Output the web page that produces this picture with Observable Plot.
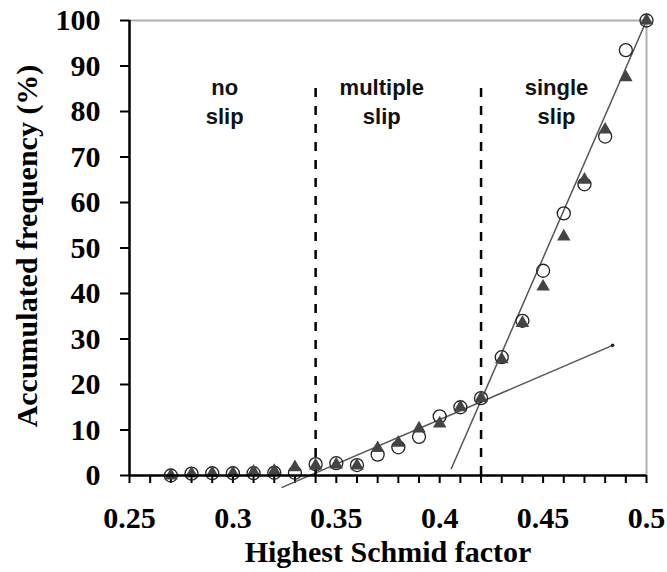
<!DOCTYPE html>
<html>
<head>
<meta charset="utf-8">
<script src="https://cdn.jsdelivr.net/npm/d3@7"></script>
<script src="https://cdn.jsdelivr.net/npm/@observablehq/plot@0.6"></script>
<style>
  html, body { margin: 0; padding: 0; background: white; }
</style>
</head>
<body>
<div id="chart"></div>
<script>
// Highest Schmid factor (x) and accumulated frequency (%) for two series
const schmid = [0.27, 0.28, 0.29, 0.30, 0.31, 0.32, 0.33, 0.34, 0.35, 0.36, 0.37, 0.38, 0.39, 0.40, 0.41, 0.42, 0.43, 0.44, 0.45, 0.46, 0.47, 0.48, 0.49, 0.50];
const circleSeries = [0, 0.4, 0.5, 0.5, 0.5, 0.6, 0.6, 2.5, 2.7, 2.3, 4.6, 6.2, 8.5, 13, 15, 17, 26, 34, 45, 57.6, 64, 74.5, 93.5, 100];
const triangleSeries = [0, 0.4, 0.5, 0.5, 0.8, 1.0, 1.8, 2.2, 2.4, 2.2, 6, 7.2, 10.3, 11.4, 15, 17, 25.5, 33.5, 41.5, 52.5, 65, 76, 87.5, 100];

// fitted lines (end points)
const fitLowX = [0.3238, 0.4836];
const fitLowY = [-2.6, 28.6];
const fitHighX = [0.4056, 0.5];
const fitHighY = [1.5, 100];

// regime boundaries and labels
const boundaries = [0.34, 0.42];
const regionLabels = ["no\nslip", "multiple\nslip", "single\nslip"];
const regionX = [0.296, 0.372, 0.4565];
const regionY = [82.5, 82.5, 82.5];

// ticks and axis labels
const xTicks = [0.25, 0.3, 0.35, 0.4, 0.45, 0.5];
const xMinorTicks = d3.range(25, 51).map(i => i / 100);
const yTicks = [0, 10, 20, 30, 40, 50, 60, 70, 80, 90, 100];
const xLabel = "Highest Schmid factor";
const yLabel = "Accumulated frequency (%)";

const rows = schmid.map((x, i) => ({x, circle: circleSeries[i], tri: triangleSeries[i]}));
const fitLow = fitLowX.map((x, i) => ({x, y: fitLowY[i]}));
const fitHigh = fitHighX.map((x, i) => ({x, y: fitHighY[i]}));
const regions = regionLabels.map((t, i) => ({t, x: regionX[i], y: regionY[i]}));

const serif = "'Liberation Serif', 'Times New Roman', serif";
const sans = "'Liberation Sans', Arial, sans-serif";

const chart = Plot.plot({
  width: 667,
  height: 572,
  marginLeft: 129,
  marginRight: 21,
  marginTop: 20,
  marginBottom: 97,
  style: {fontFamily: serif, background: "white", color: "black", overflow: "visible"},
  x: {domain: [0.25, 0.5]},
  y: {domain: [0, 100]},
  marks: [
    // gray frame top/right
    Plot.ruleY([100], {x1: 0.25, x2: 0.5, stroke: "#b0b0b0", strokeWidth: 2}),
    Plot.ruleX([0.5], {y1: 0, y2: 100, stroke: "#b0b0b0", strokeWidth: 2}),
    // axes ticks
    Plot.axisX({ticks: xMinorTicks, tickSize: 8, tickFormat: () => "", strokeWidth: 2, label: null}),
    Plot.axisX({ticks: xTicks, tickSize: 0, tickPadding: 31, fontSize: 30, fontWeight: "bold", tickFormat: d => String(d), label: null}),
    Plot.axisY({ticks: yTicks, tickSize: 9, tickPadding: 20, fontSize: 30, fontWeight: "bold", strokeWidth: 2, tickFormat: d => String(d), label: null}),
    // axis titles
    Plot.text([xLabel], {frameAnchor: "bottom", dy: 86, fontSize: 30, fontWeight: "bold", fontFamily: serif, fill: "black"}),
    Plot.text([yLabel], {frameAnchor: "left", dx: -102, dy: -2, rotate: -90, textAnchor: "middle", fontSize: 30, fontWeight: "bold", fontFamily: serif, fill: "black"}),
    // fitted lines
    Plot.line(fitLow, {x: "x", y: "y", stroke: "#555", strokeWidth: 1.5}),
    Plot.dot([fitLow[fitLow.length - 1]], {x: "x", y: "y", r: 1.8, fill: "#222"}),
    Plot.line(fitHigh, {x: "x", y: "y", stroke: "#555", strokeWidth: 1.5}),
    // boundaries
    Plot.ruleX(boundaries, {y1: 0, y2: 86, stroke: "black", strokeWidth: 2.5, strokeDasharray: "9,9"}),
    // data markers
    Plot.dot(rows, {x: "x", y: "circle", r: 6.5, stroke: "#222", strokeWidth: 1.3, fill: "none"}),
    Plot.dot(rows, {x: "x", y: "tri", symbol: "triangle", r: 5, fill: "#444", stroke: "none"}),
    // main axis lines
    Plot.ruleX([0.25], {y1: 0, y2: 100, stroke: "black", strokeWidth: 2.5}),
    Plot.ruleY([0], {x1: 0.25, x2: 0.5, stroke: "black", strokeWidth: 2.5}),
    // region labels
    Plot.text(regions, {x: "x", y: "y", text: "t", fontFamily: sans, fontWeight: "bold", fontSize: 22, lineHeight: 1.3, fill: "#111"})
  ]
});
document.getElementById("chart").appendChild(chart);
</script>
</body>
</html>
